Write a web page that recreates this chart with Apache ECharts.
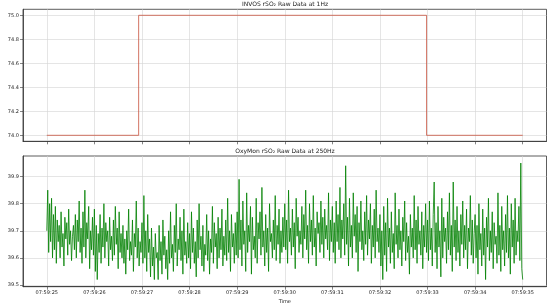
<!DOCTYPE html>
<html>
<head>
<meta charset="utf-8">
<script src="https://cdn.jsdelivr.net/npm/echarts@6/dist/echarts.min.js"></script>
<style>
  html, body { margin: 0; padding: 0; background: #fff; }
  #chart { width: 550px; height: 305px; }
</style>
</head>
<body>
<div id="chart"></div>
<script>
// x axis: seconds past 07:59
const timeTicks = [25, 26, 27, 28, 29, 30, 31, 32, 33, 34, 35];
const timeTickLabels = ['07:59:25', '07:59:26', '07:59:27', '07:59:28', '07:59:29', '07:59:30',
  '07:59:31', '07:59:32', '07:59:33', '07:59:34', '07:59:35'];

// INVOS 1Hz (step)
const invosTime = [25.0, 26.93, 32.98, 35.0];
const invosValue = [74.0, 75.0, 74.0, 74.0];
const invosTicks = [74.0, 74.2, 74.4, 74.6, 74.8, 75.0];

// OxyMon at ~50 samples per second
const oxyStart = 25.0;
const oxyRate = 50;
const oxyTicks = [39.5, 39.6, 39.7, 39.8, 39.9];
const oxyValue = [
  39.70,39.85,39.62,39.80,39.66,39.82,39.60,39.76,39.63,39.79,
  39.58,39.74,39.66,39.72,39.60,39.77,39.64,39.69,39.57,39.75,
  39.67,39.73,39.61,39.78,39.65,39.70,39.59,39.68,39.72,39.63,
  39.76,39.60,39.74,39.66,39.81,39.62,39.71,39.58,39.77,39.64,
  39.85,39.60,39.73,39.67,39.79,39.56,39.70,39.63,39.75,39.61,
  39.78,39.55,39.72,39.52,39.69,39.62,39.76,39.58,39.71,39.64,
  39.80,39.60,39.73,39.66,39.70,39.57,39.75,39.63,39.68,39.59,
  39.74,39.61,39.79,39.65,39.71,39.56,39.77,39.62,39.69,39.60,
  39.72,39.58,39.67,39.54,39.70,39.63,39.78,39.59,39.66,39.61,
  39.74,39.55,39.69,39.64,39.81,39.60,39.71,39.57,39.66,39.62,
  39.73,39.58,39.83,39.60,39.70,39.55,39.76,39.62,39.67,39.53,
  39.71,39.57,39.64,39.52,39.69,39.60,39.62,39.52,39.72,39.59,
  39.66,39.54,39.74,39.61,39.68,39.56,39.63,39.52,39.70,39.58,
  39.77,39.60,39.65,39.55,39.72,39.62,39.80,39.57,39.67,39.63,
  39.75,39.59,39.70,39.54,39.78,39.61,39.66,39.58,39.73,39.60,
  39.69,39.56,39.77,39.62,39.71,39.58,39.66,39.53,39.74,39.60,
  39.80,39.63,39.68,39.57,39.72,39.55,39.65,39.61,39.76,39.59,
  39.70,39.54,39.67,39.62,39.79,39.58,39.73,39.64,39.69,39.56,
  39.75,39.60,39.71,39.63,39.78,39.57,39.68,39.61,39.74,39.59,
  39.82,39.62,39.70,39.55,39.76,39.64,39.69,39.58,39.73,39.61,
  39.77,39.60,39.89,39.63,39.74,39.57,39.81,39.65,39.70,39.55,
  39.84,39.62,39.72,39.66,39.79,39.54,39.75,39.63,39.68,39.60,
  39.82,39.58,39.73,39.67,39.77,39.61,39.86,39.64,39.70,39.57,
  39.76,39.62,39.71,39.55,39.80,39.66,39.69,39.60,39.74,39.63,
  39.83,39.59,39.72,39.65,39.78,39.58,39.70,39.62,39.75,39.64,
  39.80,39.63,39.74,39.58,39.85,39.66,39.71,39.61,39.78,39.64,
  39.73,39.56,39.82,39.68,39.75,39.62,39.70,39.65,39.79,39.60,
  39.76,39.67,39.85,39.63,39.72,39.58,39.80,39.66,39.74,39.61,
  39.83,39.64,39.71,39.57,39.77,39.69,39.73,39.62,39.81,39.65,
  39.75,39.60,39.78,39.67,39.72,39.63,39.84,39.59,39.74,39.66,
  39.79,39.62,39.73,39.58,39.81,39.66,39.76,39.63,39.86,39.60,
  39.74,39.67,39.80,39.61,39.94,39.65,39.75,39.57,39.82,39.64,
  39.72,39.60,39.84,39.68,39.76,39.62,39.79,39.55,39.73,39.66,
  39.81,39.63,39.70,39.59,39.77,39.65,39.83,39.61,39.74,39.67,
  39.80,39.58,39.72,39.64,39.78,39.60,39.85,39.66,39.71,39.62,
  39.76,39.57,39.70,39.52,39.79,39.61,39.73,39.55,39.82,39.64,
  39.71,39.58,39.77,39.62,39.69,39.56,39.84,39.65,39.72,39.60,
  39.78,39.63,39.70,39.57,39.75,39.66,39.81,39.59,39.73,39.62,
  39.68,39.54,39.76,39.64,39.71,39.60,39.83,39.63,39.74,39.58,
  39.79,39.65,39.70,39.61,39.77,39.56,39.72,39.64,39.80,39.62,
  39.74,39.59,39.81,39.63,39.71,39.57,39.76,39.88,39.62,39.73,
  39.56,39.79,39.64,39.70,39.53,39.82,39.60,39.75,39.66,39.71,
  39.58,39.77,39.63,39.84,39.61,39.72,39.55,39.88,39.64,39.74,
  39.59,39.79,39.62,39.70,39.57,39.76,39.65,39.81,39.60,39.72,
  39.63,39.78,39.56,39.71,39.66,39.83,39.61,39.74,39.58,39.69,
  39.76,39.60,39.72,39.54,39.80,39.63,39.69,39.57,39.78,39.61,
  39.71,39.52,39.75,39.64,39.82,39.59,39.70,39.62,39.77,39.56,
  39.73,39.65,39.68,39.58,39.84,39.61,39.72,39.55,39.79,39.63,
  39.70,39.57,39.76,39.62,39.83,39.60,39.71,39.54,39.80,39.64,
  39.74,39.58,39.82,39.61,39.70,39.66,39.79,39.59,39.95,39.56,
  39.52
];

const font = 'DejaVu Sans';
const ink = '#222';
const frame = '#333';
const gridLine = '#d3d3d3';

function xAxis(gridIndex, showLabels) {
  return {
    type: 'value', gridIndex, min: 24.5, max: 35.5,
    name: showLabels ? 'Time' : '',
    nameLocation: 'middle', nameGap: 13,
    nameTextStyle: { fontFamily: font, fontSize: 5, color: ink },
    axisLine: { show: true, onZero: false, lineStyle: { color: frame, width: 0.8 } },
    axisTick: { show: true, length: 3, customValues: timeTicks, lineStyle: { color: frame, width: 0.6 } },
    axisLabel: {
      show: showLabels, customValues: timeTicks, margin: 4,
      fontFamily: font, fontSize: 5, color: ink,
      formatter: v => timeTickLabels[timeTicks.indexOf(Math.round(v))] || ''
    },
    splitLine: { show: true, lineStyle: { color: gridLine, width: 0.6 } }
  };
}

function yAxis(gridIndex, name, min, max, ticks) {
  return {
    type: 'value', gridIndex, min, max, name,
    nameLocation: 'middle', nameGap: 15, nameRotate: 90,
    nameTextStyle: { fontFamily: font, fontSize: 5, color: ink },
    axisLine: { show: true, lineStyle: { color: frame, width: 0.8 } },
    axisTick: { show: true, length: 3, customValues: ticks, lineStyle: { color: frame, width: 0.6 } },
    axisLabel: {
      customValues: ticks, margin: 4, fontFamily: font, fontSize: 5, color: ink,
      formatter: v => v.toFixed(1)
    },
    splitLine: { show: true, lineStyle: { color: gridLine, width: 0.6 } }
  };
}

const chart = echarts.init(document.getElementById('chart'), null, { renderer: 'canvas' });
chart.setOption({
  animation: false,
  backgroundColor: '#fff',
  title: [
    { text: 'INVOS rSO₂ Raw Data at 1Hz', left: 285, top: 1.5, padding: 0, textAlign: 'center',
      textStyle: { fontFamily: font, fontSize: 6, fontWeight: 'normal', color: ink } },
    { text: 'OxyMon rSO₂ Raw Data at 250Hz', left: 285, top: 148.3, padding: 0, textAlign: 'center',
      textStyle: { fontFamily: font, fontSize: 6, fontWeight: 'normal', color: ink } }
  ],
  grid: [
    { left: 23, right: 3.5, top: 9.3, height: 132, outerBoundsMode: 'none',
      show: true, borderColor: frame, borderWidth: 0.8 },
    { left: 23, right: 3.5, top: 156, height: 130.7, outerBoundsMode: 'none',
      show: true, borderColor: frame, borderWidth: 0.8 }
  ],
  xAxis: [xAxis(0, false), xAxis(1, true)],
  yAxis: [
    yAxis(0, 'rSO₂_Invos', 73.95, 75.05, invosTicks),
    yAxis(1, 'rSO₂_Oxymon', 39.4937, 39.976, oxyTicks)
  ],
  series: [
    {
      type: 'line', xAxisIndex: 0, yAxisIndex: 0, step: 'end', symbol: 'none',
      lineStyle: { color: '#c8503c', width: 0.8 },
      data: invosTime.map((t, i) => [t, invosValue[i]])
    },
    {
      type: 'line', xAxisIndex: 1, yAxisIndex: 1, symbol: 'none', sampling: null,
      lineStyle: { color: '#008000', width: 0.8 },
      data: oxyValue.map((v, i) => [oxyStart + i / oxyRate, v])
    }
  ]
});
</script>
</body>
</html>
